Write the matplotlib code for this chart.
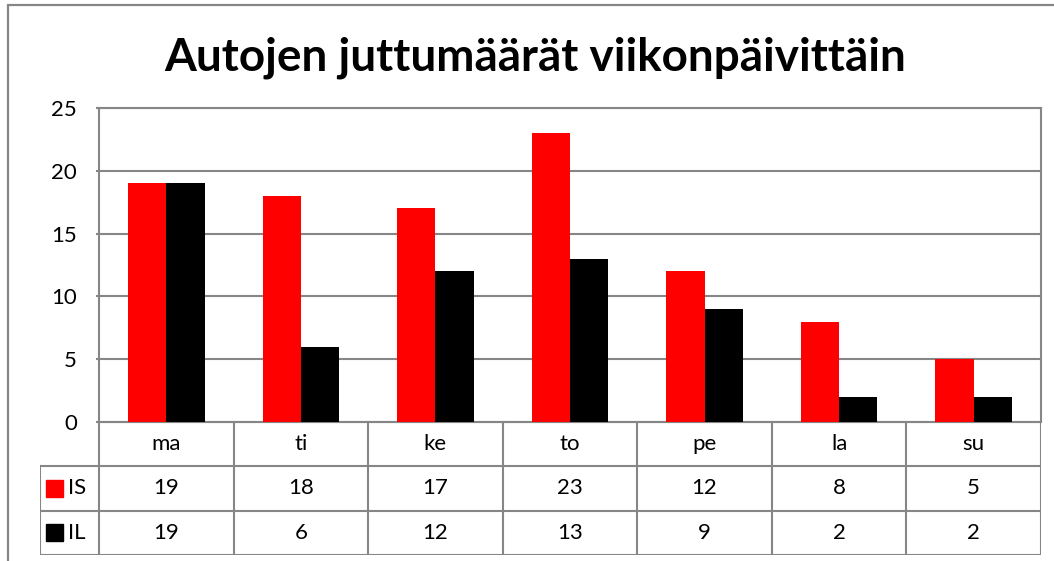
import numpy as np
import matplotlib.pyplot as plt
from matplotlib.patches import Rectangle

plt.rcParams['font.family'] = ['Lato', 'DejaVu Sans']

# data
days = ["ma", "ti", "ke", "to", "pe", "la", "su"]
series_names = ["IS", "IL"]
is_counts = [19, 18, 17, 23, 12, 8, 5]
il_counts = [19, 6, 12, 13, 9, 2, 2]
colors = ["#ff0000", "#000000"]
yticks = [0, 5, 10, 15, 20, 25]
title = "Autojen juttumäärät viikonpäivittäin"

W, H = 1054, 561
grey = "#868686"


def fx(px):
    return px / W


def fy(py):
    return 1 - py / H


fig = plt.figure(figsize=(W / 100, H / 100), dpi=100)

# outer chart frame
fig.patches.append(Rectangle((fx(8), fy(575)), fx(1070 - 8), 570 / H,
                             transform=fig.transFigure, fill=False,
                             edgecolor=grey, lw=1.6))

fig.text(fx(535), fy(58), title, ha="center", va="center",
         fontsize=33, fontweight="bold")

# plot area
left, right, top, bottom = 99, 1041, 108, 422
ax = fig.add_axes([fx(left), fy(bottom), fx(right - left), (bottom - top) / H])
x = np.arange(len(days))
w = 0.285
ax.bar(x - w / 2, is_counts, w, color=colors[0], zorder=3)
ax.bar(x + w / 2, il_counts, w, color=colors[1], zorder=3)
ax.set_xlim(-0.5, len(days) - 0.5)
ax.set_ylim(0, 25)
ax.set_yticks(yticks)
ax.set_xticks([])
ax.yaxis.grid(True, color=grey, lw=1.5, zorder=0)
for s in ax.spines.values():
    s.set_color(grey)
    s.set_linewidth(1.5)
ax.tick_params(axis="y", length=2, color=grey, width=1.5, pad=14,
               labelsize=16)

# data table below the plot
tbl_left, tbl_bottom = 40, 555
row_h = (tbl_bottom - bottom) / 3
cat_w = (right - left) / len(days)
lab_w = (left - tbl_left) / cat_w
tax = fig.add_axes([fx(tbl_left), fy(tbl_bottom), fx(right - tbl_left),
                    (tbl_bottom - bottom) / H])
x0 = -0.5 - lab_w
tax.set_xlim(x0, len(days) - 0.5)
tax.set_ylim(3, 0)
tax.axis("off")
lk = dict(color=grey, lw=1.5, solid_capstyle="projecting")
# horizontal lines
tax.plot([-0.5, len(days) - 0.5], [0, 0], **lk)
for r in [1, 2, 3]:
    tax.plot([x0, len(days) - 0.5], [r, r], **lk)
# vertical lines
for c in range(len(days) + 1):
    tax.plot([c - 0.5, c - 0.5], [0, 3], **lk)
tax.plot([x0, x0], [1, 3], **lk)

for i, d in enumerate(days):
    tax.text(i, 0.5, d, ha="center", va="center", fontsize=16)
for r, (name, vals) in enumerate(zip(series_names, [is_counts, il_counts])):
    for i, v in enumerate(vals):
        tax.text(i, r + 1.5, str(v), ha="center", va="center", fontsize=16)
    # legend key
    ky = bottom + (r + 1.5) * row_h
    fig.patches.append(Rectangle((fx(46), fy(ky + 8.5)), fx(17), 17 / H,
                                 transform=fig.transFigure,
                                 color=colors[r]))
    fig.text(fx(68), fy(ky), name, ha="left", va="center", fontsize=16)

fig.savefig("out.png", dpi=100)
